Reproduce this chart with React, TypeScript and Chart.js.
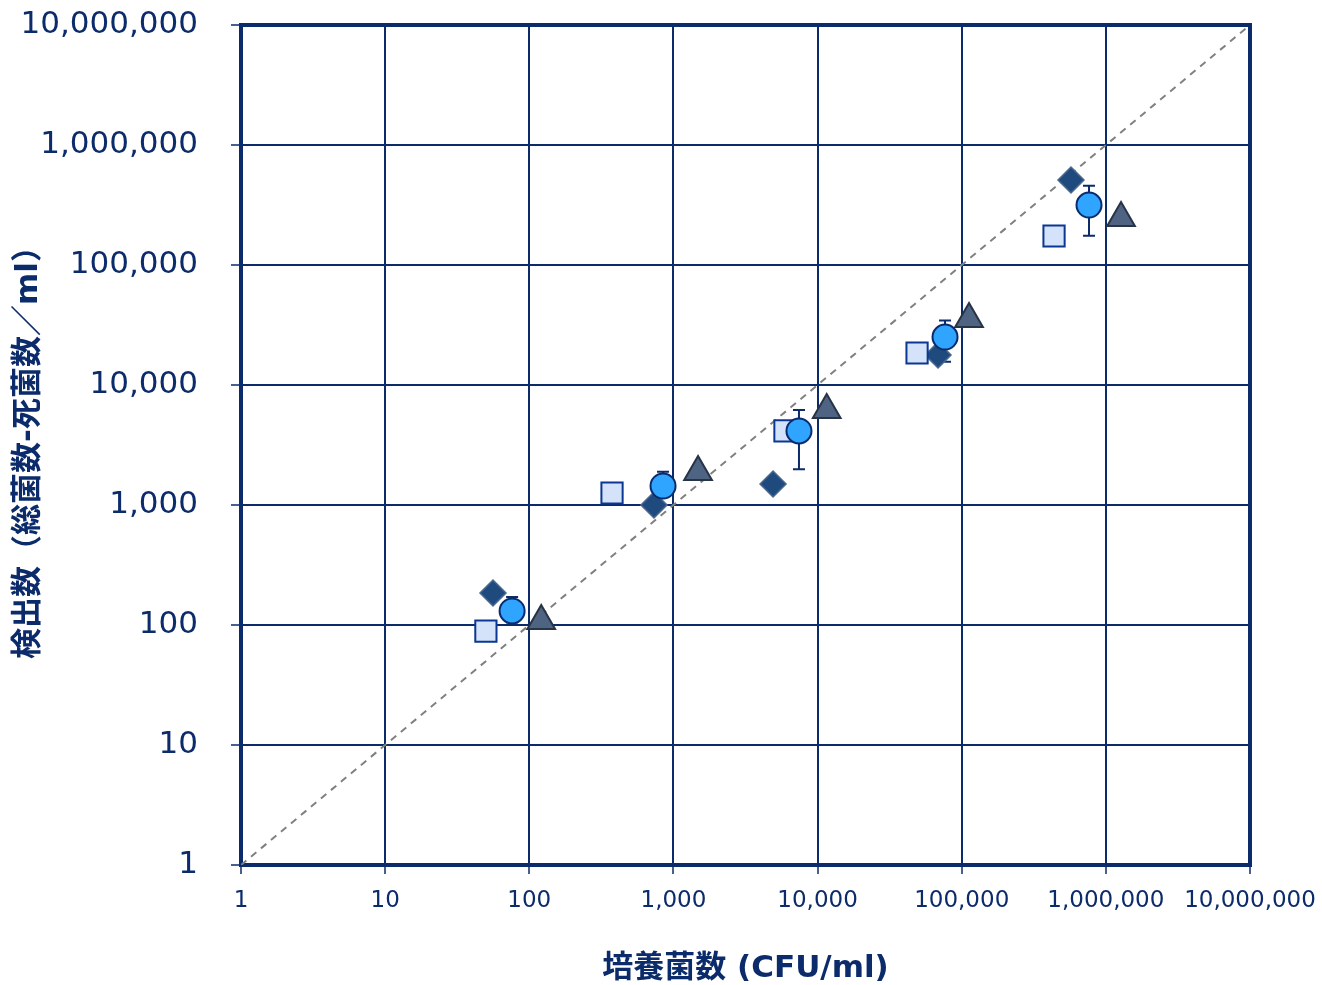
import React, { useEffect, useRef } from 'react';
import { Chart, registerables } from 'chart.js';

Chart.register(...registerables);

// ---- data ----
const decadeTicks = [1, 10, 100, 1000, 10000, 100000, 1000000, 10000000];
const xTickLabels = ['1', '10', '100', '1,000', '10,000', '100,000', '1,000,000', '10,000,000'];
const yTickLabels = ['1', '10', '100', '1,000', '10,000', '100,000', '1,000,000', '10,000,000'];

const diamondX = [56, 733, 4910, 68500, 573000];
const diamondY = [185, 1000, 1496, 17800, 511000];

const squareX = [50, 375, 5940, 49000, 437000];
const squareY = [89, 1259, 4140, 18480, 174500];

const circleX = [76, 847, 7430, 76600, 764000];
const circleY = [131, 1440, 4140, 25100, 316000];
const circleErrHigh = [171, 1896, 6190, 34400, 458000];
const circleErrLow = [105, 1200, 1984, 15640, 175500];

const triangleX = [121, 1482, 11570, 112400, 1274000];
const triangleY = [108, 1884, 6190, 35500, 246500];

const refLineX = [1, 10000000];
const refLineY = [1, 10000000];

const xTitle = '培養菌数 (CFU/ml)';
const yTitle = '検出数（総菌数-死菌数／ml）';

const NAVY = '#0B2B6B';
const TITLE_FONT = "'DejaVu Sans', 'Noto Sans CJK JP', sans-serif";

const zip = (xs: number[], ys: number[]) => xs.map((x, i) => ({ x, y: ys[i] }));

const framePlugin = {
  id: 'frameAndErrors',
  beforeDatasetsDraw(chart: any) {
    const { ctx, chartArea, scales } = chart;
    ctx.save();
    ctx.strokeStyle = NAVY;
    ctx.lineWidth = 4;
    ctx.strokeRect(chartArea.left, chartArea.top, chartArea.right - chartArea.left, chartArea.bottom - chartArea.top);
    // error bars for circle series
    ctx.lineWidth = 2;
    ctx.strokeStyle = NAVY;
    circleX.forEach((xv, i) => {
      const px = scales.x.getPixelForValue(xv);
      const hi = scales.y.getPixelForValue(circleErrHigh[i]);
      const lo = scales.y.getPixelForValue(circleErrLow[i]);
      ctx.beginPath();
      ctx.moveTo(px, hi);
      ctx.lineTo(px, lo);
      ctx.moveTo(px - 6, hi);
      ctx.lineTo(px + 6, hi);
      ctx.moveTo(px - 6, lo);
      ctx.lineTo(px + 6, lo);
      ctx.stroke();
    });
    ctx.restore();
  },
};

export default function App() {
  const ref = useRef<HTMLCanvasElement | null>(null);
  useEffect(() => {
    if (!ref.current) return;
    const chart = new Chart(ref.current, {
      type: 'scatter',
      data: {
        datasets: [
          {
            type: 'line',
            label: 'y=x',
            data: zip(refLineX, refLineY),
            borderColor: '#808080',
            borderWidth: 2,
            borderDash: [7, 6],
            pointRadius: 0,
            fill: false,
            order: 10,
          } as any,
          {
            label: 'diamond',
            data: zip(diamondX, diamondY),
            pointStyle: 'rectRot',
            pointRadius: 13,
            backgroundColor: '#1F4A7D',
            borderColor: '#4A6890',
            borderWidth: 1.5,
            order: 4,
          },
          {
            label: 'square',
            data: zip(squareX, squareY),
            pointStyle: 'rect',
            pointRadius: 15,
            backgroundColor: '#D5E3FA',
            borderColor: '#0A3791',
            borderWidth: 2,
            order: 3,
          },
          {
            label: 'triangle',
            data: zip(triangleX, triangleY),
            pointStyle: 'triangle',
            pointRadius: 16,
            backgroundColor: '#4F6382',
            borderColor: '#263445',
            borderWidth: 2,
            order: 2,
          },
          {
            label: 'circle',
            data: zip(circleX, circleY),
            pointStyle: 'circle',
            pointRadius: 12.5,
            backgroundColor: '#2FA5FF',
            borderColor: '#0A2A6B',
            borderWidth: 2,
            order: 1,
          },
        ],
      },
      options: {
        animation: false,
        responsive: false,
        devicePixelRatio: 1,
        layout: { padding: { left: 0, top: 25, right: 72, bottom: 0 } },
        plugins: {
          legend: { display: false },
          tooltip: { enabled: false },
          title: { display: false },
        },
        scales: {
          x: {
            type: 'logarithmic',
            min: 1,
            max: 10000000,
            afterBuildTicks: (s: any) => {
              s.ticks = decadeTicks.map((v) => ({ value: v }));
            },
            afterFit: (s: any) => {
              s.height = 120;
              s.paddingLeft = 0;
              s.paddingRight = 0;
            },
            grid: {
              color: NAVY,
              lineWidth: 2,
              drawTicks: true,
              tickLength: 9,
              tickWidth: 1.5,
              tickColor: NAVY,
            },
            border: { display: false },
            ticks: {
              autoSkip: false,
              maxRotation: 0,
              minRotation: 0,
              padding: 13,
              color: NAVY,
              font: { family: 'DejaVu Sans', size: 23 },
              callback: (_v: any, i: number) => xTickLabels[i],
            },
            title: {
              display: true,
              text: xTitle,
              color: NAVY,
              font: { family: TITLE_FONT, size: 31, weight: 'bold' },
              padding: { top: 0, bottom: -3 },
            },
          },
          y: {
            type: 'logarithmic',
            min: 1,
            max: 10000000,
            afterBuildTicks: (s: any) => {
              s.ticks = decadeTicks.map((v) => ({ value: v }));
            },
            afterFit: (s: any) => {
              s.width = 241;
              s.paddingTop = 0;
              s.paddingBottom = 0;
            },
            grid: {
              color: NAVY,
              lineWidth: 2,
              drawTicks: true,
              tickLength: 10,
              tickWidth: 1.5,
              tickColor: NAVY,
            },
            border: { display: false },
            ticks: {
              autoSkip: false,
              padding: 33,
              color: NAVY,
              font: { family: 'DejaVu Sans', size: 31 },
              callback: (_v: any, i: number) => yTickLabels[i],
            },
            title: {
              display: true,
              text: yTitle,
              color: NAVY,
              font: { family: TITLE_FONT, size: 31, weight: 'bold' },
              padding: { top: 10, bottom: 0 },
            },
          },
        },
      },
      plugins: [framePlugin],
    } as any);
    return () => chart.destroy();
  }, []);
  return (
    <div style={{ position: 'absolute', left: 0, top: 0, width: 1322, height: 985 }}>
      <canvas ref={ref} width={1322} height={985} style={{ display: 'block', width: 1322, height: 985 }} />
    </div>
  );
}
